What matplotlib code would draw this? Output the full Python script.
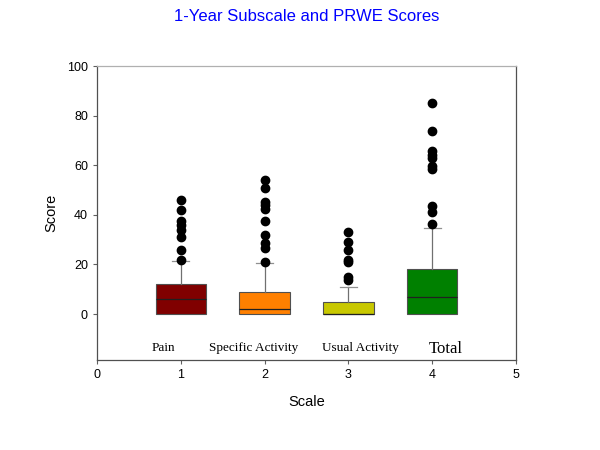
import matplotlib
matplotlib.use("Agg")
import matplotlib.pyplot as plt

# box stats
names = ["Pain", "Specific Activity", "Usual Activity", "Total"]
positions = [1, 2, 3, 4]
q1 = [0, 0, 0, 0]
medians = [6, 2, 0, 7]
q3 = [12, 9, 5, 18]
whislo = [0, 0, 0, 0]
whishi = [21.5, 20.7, 11, 34.8]
fliers = [
    [22, 26, 31, 34, 36, 37.6, 42, 46],
    [21, 26.7, 28.5, 32, 37.5, 42.2, 44, 45.3, 50.8, 54],
    [13.7, 15, 21, 22, 26, 29, 33],
    [36.4, 41, 43.5, 58.5, 59.7, 62.8, 64.2, 65.7, 74, 85],
]
colors = ["#800000", "#ff8000", "#c8c800", "#008000"]
# where the category names sit inside the plot
label_x = [0.79, 1.87, 3.14, 4.16]
label_y = [-13.5, -13.5, -13.5, -14]
label_size = [9.5, 9.5, 9.5, 12]

plt.rcParams['font.family'] = ['Liberation Sans', 'DejaVu Sans']

fig = plt.figure(figsize=(6, 4.5), dpi=100)
ax = fig.add_axes([0.1617, 0.2, 0.6983, 0.6533])

stats = []
for i in range(len(names)):
    stats.append(dict(med=medians[i], q1=q1[i], q3=q3[i], whislo=whislo[i],
                      whishi=whishi[i], fliers=fliers[i], label=names[i]))

bp = ax.bxp(stats, positions=positions, widths=0.6, patch_artist=True,
            boxprops=dict(edgecolor="#505050", linewidth=0.8),
            medianprops=dict(color="#202020", linewidth=0.9),
            whiskerprops=dict(color="#707070", linewidth=0.9),
            capprops=dict(color="#909090", linewidth=0.9),
            capwidths=0.2,
            flierprops=dict(marker="o", markerfacecolor="black",
                            markeredgecolor="black", markersize=6))
for patch, c in zip(bp["boxes"], colors):
    patch.set_facecolor(c)
# no lower caps, the boxes start at 0
for cap in bp["caps"][0::2]:
    cap.set_visible(False)

for x, y, n, fs in zip(label_x, label_y, names, label_size):
    ax.text(x, y, n, ha="center", va="center", fontsize=fs,
            family=["Liberation Serif", "DejaVu Serif"])

ax.set_xlim(0, 5)
ax.set_ylim(-18.5, 100)
ax.set_xticks([0, 1, 2, 3, 4, 5])
ax.set_yticks([0, 20, 40, 60, 80, 100])
ax.set_xticklabels(["0", "1", "2", "3", "4", "5"])
ax.tick_params(labelsize=9, length=3, color="#606060", direction="out")
ax.set_xlabel("Scale", fontsize=10.5, labelpad=10)
ax.set_ylabel("Score", fontsize=10.5, labelpad=6)
ax.spines["top"].set_color("#b0b0b0")
for s in ["left", "right", "bottom"]:
    ax.spines[s].set_color("#505050")
for s in ax.spines.values():
    s.set_linewidth(0.9)

fig.text(0.511, 0.964, "1-Year Subscale and PRWE Scores", ha="center",
         va="center", color="#0000ff", fontsize=12)

fig.savefig("out.png", dpi=100)
